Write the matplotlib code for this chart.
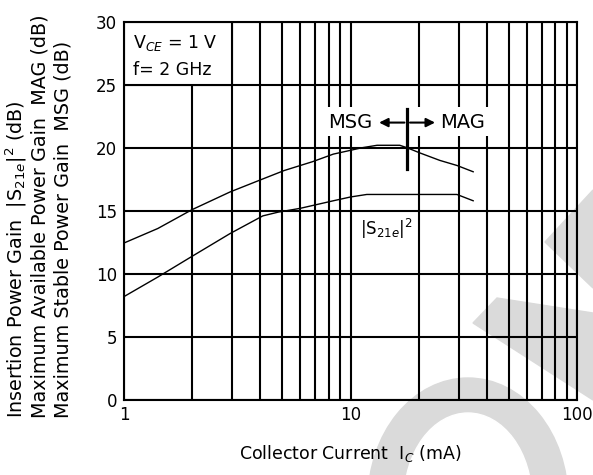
import numpy as np
import matplotlib
matplotlib.use('Agg')
import matplotlib.pyplot as plt
from matplotlib.patches import Rectangle, Ellipse, Polygon

# MSG / MAG curve (upper) and |S21e|^2 curve (lower)
ic_msg = [1, 1.41, 2, 2.94, 4.06, 5.1, 6.8, 8.4, 10, 11.2, 13.1, 16.5, 17.8, 20.2, 24.8, 29.5, 34.8]
gain_msg = [12.45, 13.6, 15.1, 16.5, 17.5, 18.2, 18.9, 19.5, 19.8, 20.0, 20.2, 20.2, 20.0, 19.6, 19.0, 18.6, 18.1]

ic_s21 = [1, 1.41, 2, 2.94, 4.1, 4.8, 6.0, 7.1, 8.4, 10, 11.8, 29.5, 34.8]
gain_s21 = [8.2, 9.75, 11.4, 13.2, 14.6, 14.9, 15.2, 15.5, 15.8, 16.1, 16.3, 16.3, 15.8]

ic_boundary = 17.8      # MSG | MAG change-over
y_ticks = [0, 5, 10, 15, 20, 25, 30]
x_ticks = [1, 10, 100]

plt.rcParams['font.family'] = ['DejaVu Sans']

W, H = 593, 475
fig = plt.figure(figsize=(W / 100, H / 100), dpi=100)

# faint watermark behind the chart, drawn in pixel space on a background axes
bg = fig.add_axes([0, 0, 1, 1], zorder=-1)
bg.set_xlim(0, W)
bg.set_ylim(H, 0)
bg.axis('off')
wm = '#dadada'
bg.add_patch(Ellipse((468, 500), 200, 244, color=wm))
bg.add_patch(Ellipse((468, 500), 128, 174, color='white'))
bg.add_patch(Polygon([(545, 242), (593, 190), (593, 288)], closed=True, color=wm))
bg.add_patch(Polygon([(473, 323), (497, 298), (593, 313), (593, 400)], closed=True, color=wm))

ax = fig.add_axes([124 / W, 1 - 400 / H, (577 - 124) / W, (400 - 21.7) / H], zorder=1)
ax.patch.set_visible(False)

ax.set_xscale('log')
ax.set_xlim(1, 100)
ax.set_ylim(0, 30)
ax.set_xticks(x_ticks)
ax.set_xticklabels([str(t) for t in x_ticks])
ax.set_yticks(y_ticks)
ax.xaxis.set_minor_locator(matplotlib.ticker.LogLocator(base=10, subs=np.arange(2, 10)))
ax.xaxis.set_minor_formatter(matplotlib.ticker.NullFormatter())
ax.tick_params(which='both', length=0, labelsize=12)
ax.tick_params(axis='y', pad=5)
ax.tick_params(axis='x', pad=4)

ax.set_axisbelow(True)
ax.grid(which='major', axis='both', color='black', lw=1.5)
ax.grid(which='minor', axis='x', color='black', lw=1.5)
for s in ax.spines.values():
    s.set_linewidth(1.5)

# conditions box
ax.add_patch(Rectangle((1, 25), 2, 5, facecolor='white', edgecolor='black', lw=1.5, zorder=1.5))
ax.text(1.1, 28.3, 'V$_{CE}$ = 1 V', fontsize=12.5, va='center', zorder=3)
ax.text(1.1, 26.2, 'f= 2 GHz', fontsize=12.5, va='center', zorder=3)

# curves
ax.plot(ic_msg, gain_msg, color='black', lw=1.0, zorder=3)
ax.plot(ic_s21, gain_s21, color='black', lw=1.0, zorder=3)

# MSG / MAG marker
ax.add_patch(Rectangle((7.6, 20.9), 45 - 7.6, 23.2 - 20.9, facecolor='white', edgecolor='none', zorder=1.5))
ax.plot([ic_boundary, ic_boundary], [18.3, 23.1], color='black', lw=2.3, zorder=4)
ax.annotate('', xy=(13.0, 22.0), xytext=(ic_boundary, 22.0),
            arrowprops=dict(arrowstyle='-|>', color='black', lw=1.5, mutation_scale=13), zorder=4)
ax.annotate('', xy=(24.3, 22.0), xytext=(ic_boundary, 22.0),
            arrowprops=dict(arrowstyle='-|>', color='black', lw=1.5, mutation_scale=13), zorder=4)
ax.text(12.5, 22.0, 'MSG', fontsize=14, ha='right', va='center', zorder=4)
ax.text(24.8, 22.0, 'MAG', fontsize=14, ha='left', va='center', zorder=4)

ax.text(11.0, 13.6, '|S$_{21e}$|$^2$', fontsize=12, ha='left', va='center', zorder=4)

ax.set_xlabel('Collector Current  I$_C$ (mA)', fontsize=12.5, labelpad=14)

ylabels = ['Insertion Power Gain  |S$_{21e}$|$^2$ (dB)',
           'Maximum Available Power Gain  MAG (dB)',
           'Maximum Stable Power Gain  MSG (dB)']
for xpos, lab in zip([16, 40, 63], ylabels):
    fig.text(xpos / W, 1 - 418 / H, lab, rotation=90, rotation_mode='anchor',
             ha='left', va='center', fontsize=13.8)

fig.savefig('out.png', dpi=100)
